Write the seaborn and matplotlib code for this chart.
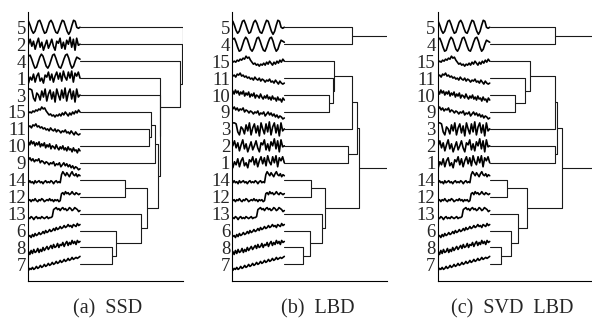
import numpy as np
import seaborn as sns
import matplotlib.pyplot as plt

sns.set_style("white")
plt.rcParams['font.family'] = ['Liberation Serif', 'DejaVu Serif']

# thumbnail series (offset in px above the leaf line)
series = {
    5: [6, 2, -3, -6, -4, 1, 6, 7, 3, -2, -6, -5, 0, 5, 7, 4, -1, -5, -6, -2, 3, 7, 6, 1, -4, -7, -4, 2, 7, 6, 0, -1, 0],
    4: [5, 6, 2, -3, -7, -6, -1, 4, 7, 5, 0, -5, -7, -4, 1, 6, 7, 3, -2, -6, -7, -3, 2, 6, 7, 3, -3, -7, -5, 0, 4, 3, 2],
    2: [0, 5, -2, 3, -5, 1, 6, -3, 2, -6, -1, 4, -4, 0, 5, -2, -6, 3, 1, 6, -4, 2, -5, 4, 0, 7, -3, 5, -6, 6, -1, 0],
    1: [-5, 1, -2, 4, -4, 2, 5, -3, 0, -5, 3, 1, 6, -2, 4, -4, 2, 6, -1, 5, -3, 7, 1, -2, 6, 0, 7, -4, 5, 2, 6, 0],
    3: [6, 6, 5, -3, -6, 2, 0, -5, 4, -2, 6, -6, 1, 5, -4, 3, -7, 6, 0, -5, 5, -3, 7, -6, 2, 6, -4, 4, -7, 6, -2, 0],
    15: [-1, 0, -1, 1, 0, 2, 1, 3, 2, 5, 3, 4, 1, -1, -3, -2, -4, -3, -5, -3, -4, -2, -4, -1, -3, 0, -2, -4, -1, -3,
         0, -2, 1, -1, 2, 0],
    11: [2, 3, 1, 4, 3, 5, 2, 3, 1, 2, 0, 1, -1, 0, -2, 1, -1, -2, 0, -3, -1, -2, -4, -2, -3, -1, -4, -3, -5, -2,
         -4, -6, -3, -5, -6, -5],
    10: [4, 1, 5, 2, 4, 0, 3, 1, 4, -1, 2, 0, 3, -2, 1, -1, 2, -3, 0, -1, -3, 1, -2, -4, -1, -3, 0, -4, -2, -5, -1,
         -4, -3, -6, -2, -5, -4, -7, -3, -5],
    9: [3, 5, 2, 4, 1, 3, 2, 4, 0, 2, 1, -1, 1, 0, -2, 0, -1, 1, -3, -1, -2, 0, -4, -2, 0, -3, -1, -4, -2, -5, -3,
        -6, -4, -5, -7, -6],
    14: [-3, -1, -3, -2, -4, -1, -3, -2, -1, -3, -2, -4, -2, -1, -3, -2, -3, -1, -2, -4, -2, -1, -3, -2, -3, 5, 8, 6,
         4, 7, 5, 3, 6, 8, 5, 4, 6, 3, 5, 4],
    12: [-4, -3, -5, -3, -4, -2, -4, -5, -3, -4, -2, -3, -5, -4, -3, -4, -2, -4, -3, -5, -3, -4, -3, -5, -4, 3, 4, 2,
         5, 3, 4, 2, 3, 5, 3, 2, 4, 3, 2, 3],
    13: [-4, -5, -3, -4, -6, -4, -3, -5, -4, -5, -3, -4, -5, -4, -3, -5, -4, -4, -3, 4, 5, 6, 4, 5, 3, 5, 6, 4, 5, 3,
         4, 6, 5, 3, 4, 6, 5, 4, 2, 3],
    6: [-6, -5, -7, -4, -6, -3, -5, -4, -2, -4, -3, -1, -3, 0, -2, -1, 1, -1, 0, 2, 0, 3, 1, 2, 4, 2, 3, 5, 3, 4, 6,
        4, 5, 3, 6, 5, 4, 7, 5, 6],
    8: [-4, -7, -3, -6, -2, -5, -4, -1, -5, -2, -4, 0, -3, -1, 1, -2, 0, 2, -1, 3, 0, 1, 4, 0, 3, 2, 5, 1, 4, 6, 2, 5,
        3, 7, 4, 6, 3, 7, 5, 6],
    7: [-6, -4, -5, -3, -5, -4, -2, -4, -3, -1, -3, -2, 0, -2, -1, 1, -1, 0, 2, 0, 1, 3, 1, 2, 4, 2, 3, 5, 3, 4, 6,
        4, 5, 7, 5, 6, 7, 6, 7, 8],
}

# leaf orders (top to bottom)
order_ssd = [5, 2, 4, 1, 3, 15, 11, 10, 9, 14, 12, 13, 6, 8, 7]
order_lbd = [5, 4, 15, 11, 10, 9, 3, 2, 1, 14, 12, 13, 6, 8, 7]
order_svd = [5, 4, 15, 11, 10, 9, 3, 2, 1, 14, 12, 13, 6, 8, 7]

# merges: (left, right, distance); ints are leaves, 'cN' refers to the N-th merge
links_ssd = [(8, 7, 32.3), (6, 'c0', 35.7), (13, 'c1', 61.3), (14, 12, 44.7), ('c3', 'c2', 67.3),
             (11, 10, 69.0), (15, 'c5', 70.7), ('c6', 9, 75.3), ('c7', 'c4', 78.0), (3, 'c8', 80.0),
             (1, 'c9', 80.3), (4, 'c10', 99.7), (2, 'c11', 102.0), (5, 'c12', 103.0)]
links_lbd = [(5, 4, 67.7), (10, 9, 44.3), (11, 'c1', 48.3), (15, 'c2', 49.3), ('c3', 3, 67.7),
             (2, 1, 63.3), ('c4', 'c5', 72.3), (14, 12, 26.7), (8, 7, 18.3), (6, 'c8', 26.0),
             (13, 'c9', 37.7), ('c7', 'c10', 40.7), ('c6', 'c11', 75.0), ('c0', 'c12', 103.3)]
links_svd = [(5, 4, 65.7), (10, 9, 25.7), (11, 'c1', 35.7), (15, 'c2', 40.0), ('c3', 3, 65.7),
             (2, 1, 65.0), ('c4', 'c5', 67.7), (14, 12, 17.7), (8, 7, 11.0), (6, 'c8', 21.0),
             (13, 'c9', 28.3), ('c7', 'c10', 37.7), ('c6', 'c11', 72.3), ('c0', 'c12', 115.0)]

captions = ['(a)  SSD', '(b)  LBD', '(c)  SVD  LBD']

fig = plt.figure(figsize=(5.92, 3.2), dpi=100)
lefts = [28, 232.3, 437.7]
cap_x = [108, 318, 512]
row_px = 16.93


def draw_panel(ax, order, links):
    pos = {leaf: i for i, leaf in enumerate(order)}
    # time-series thumbnails
    for leaf in order:
        v = np.array(series[leaf], dtype=float)
        xs = np.linspace(-51.5, 0, len(v))
        ys = pos[leaf] - v / row_px
        sns.lineplot(x=xs, y=ys, ax=ax, color='k', lw=1.2, sort=False)
    # dendrogram
    node = {leaf: (pos[leaf], 0.0) for leaf in order}
    for k, (a, b, h) in enumerate(links):
        ya, xa = node[a]
        yb, xb = node[b]
        ax.plot([xa, h, h, xb], [ya, ya, yb, yb], color='#1a1a1a', lw=0.8)
        node['c%d' % k] = ((ya + yb) / 2, h)
    ax.set_yticks(range(len(order)))
    ax.set_yticklabels([str(o) for o in order], fontsize=13.5)
    ax.tick_params(axis='y', length=0, pad=1.5)
    ax.set_xticks([])
    ax.set_xlim(-52, 103)
    ax.set_ylim(14.98, -0.92)
    sns.despine(ax=ax)
    for s in ['left', 'bottom']:
        ax.spines[s].set_linewidth(0.8)
        ax.spines[s].set_color('k')


for i, (order, links) in enumerate([(order_ssd, links_ssd), (order_lbd, links_lbd), (order_svd, links_svd)]):
    ax = fig.add_axes([lefts[i] / 592, 1 - 281 / 320, 155 / 592, (281 - 11.7) / 320])
    draw_panel(ax, order, links)
    fig.text(cap_x[i] / 592, 1 - 309 / 320, captions[i], ha='center', va='center', fontsize=14.5)

fig.savefig('out.png', dpi=100)
